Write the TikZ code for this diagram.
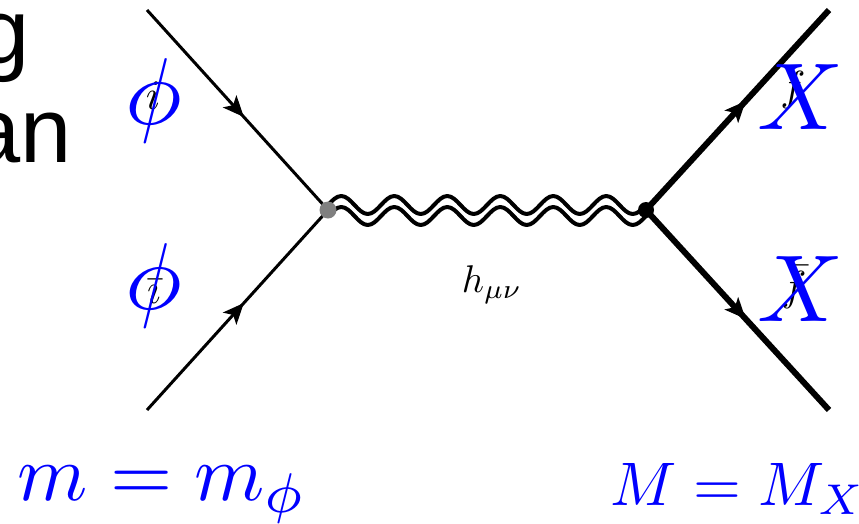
\documentclass[tikz,border=0pt]{standalone}
\usepackage{fontspec}
\setmainfont{Liberation Sans}
\usetikzlibrary{decorations.markings,arrows.meta}
\definecolor{bl}{RGB}{0,0,255}
\newcommand{\bigtxt}[1]{\fontsize{92}{99}\selectfont #1}
\newcommand{\onewave}{sin ++(13.25,-9) cos ++(13.25,9) sin ++(13.25,9) cos ++(13.25,-9)}
\tikzset{
  x=1pt,y=-1pt,
  tip/.style={decoration={markings,mark=at position #1 with {\arrow{Stealth[length=21pt,width=18pt,inset=5pt]}}},postaction={decorate}},
  thinline/.style={line width=3pt},
  thickline/.style={line width=6pt},
  bluesym/.style={text=bl,inner sep=0pt,scale=9.5},
  blacksym/.style={text=black,inner sep=0pt,scale=4.2},
  vertex/.style={circle,inner sep=0pt,minimum size=17pt},
  wav/.style={line width=4pt,line join=round},
}
\begin{document}
\begin{tikzpicture}
\useasboundingbox (0,0) rectangle (859,523);
\clip (0,0) rectangle (859,523);
\node[anchor=base east,inner sep=0pt] (g) at (30,63) {\bigtxt{g}};
\node[anchor=base east,inner sep=0pt] (an) at (72,162) {\bigtxt{an}};
\coordinate (a) at (147,10);
\coordinate (b) at (147,410);
\coordinate (c) at (829,10);
\coordinate (d) at (829,410);
\node[vertex] (L) at (328,210) {};
\node[vertex,minimum size=16pt] (R) at (646,210) {};
\draw[thinline,tip=0.535] (a) -- (L.center);
\draw[thinline,tip=0.535] (b) -- (L.center);
\draw[thickline,tip=0.545] (R.center) -- (c);
\draw[thickline,tip=0.545] (R.center) -- (d);
\draw[wav] ([yshift=5pt]L.center) \onewave \onewave \onewave \onewave \onewave \onewave;
\draw[wav] ([yshift=-6pt]L.center) \onewave \onewave \onewave \onewave \onewave \onewave;
\fill[gray] (L) circle (8.5);
\fill[black] (R) circle (8);
\node[blacksym,scale=0.92] (hl) at (492,285) {$h_{\mu\nu}$};
\node[blacksym] (i1) at (153,96) {$i$};
\node[blacksym] (i2) at (154,292) {$\bar\imath$};
\node[blacksym] (f1) at (793,90) {$f$};
\node[blacksym] (f2) at (794,287) {$\bar f$};
\node[bluesym] (p1) at (154,100.5) {$\phi$};
\node[bluesym] (p2) at (154,285.5) {$\phi$};
\node[bluesym] (x1) at (801,97) {$X$};
\node[bluesym] (x2) at (801,289) {$X$};
\node[text=bl,inner sep=0pt,scale=8,anchor=base west] (m) at (16,500) {$m=m_\phi$};
\node[text=bl,inner sep=0pt,scale=6.15,anchor=base west] (M) at (609,505) {$M=M_X$};
\end{tikzpicture}
\end{document}
